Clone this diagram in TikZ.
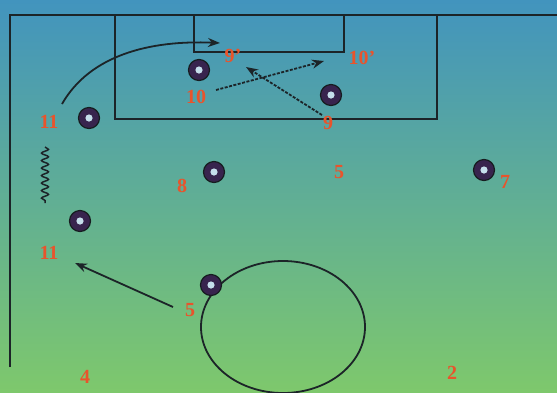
\documentclass[tikz,border=0pt]{standalone}
\usepackage{fontspec}
\setmainfont{Liberation Serif}
\usetikzlibrary{arrows.meta,decorations.pathmorphing}
\definecolor{topc}{RGB}{66,148,190}
\definecolor{botc}{RGB}{126,200,108}
\definecolor{lab}{RGB}{232,84,44}
\definecolor{ringc}{RGB}{56,36,78}
\definecolor{linec}{RGB}{28,36,40}
\tikzset{
  player/.style={circle,draw=linec!80!black,line width=1.2pt,fill=ringc,minimum size=21pt,inner sep=0pt,
    path picture={\fill[white!70!topc] (path picture bounding box.center) circle (3.6pt);}},
  num/.style={text=lab,font=\bfseries\fontsize{20}{20}\selectfont,inner sep=0pt},
  pitch/.style={draw=linec,line width=1.8pt},
  arr/.style={draw=linec,line width=1.8pt,-{Stealth[length=12pt,width=9pt]}},
  darr/.style={arr,dash pattern=on 3pt off 1.5pt}
}
\begin{document}
\begin{tikzpicture}[x=1pt,y=-1pt]
\shade[top color=topc,bottom color=botc] (0,0) rectangle (557,392);
\useasboundingbox (0,0) rectangle (557,392);
% pitch lines
\draw[pitch] (10,367) -- (10,15) -- (557,15);
\draw[pitch] (115,15) -- (115,119) -- (437,119) -- (437,15);
\draw[pitch] (194,15) -- (194,52) -- (344,52) -- (344,15);
\draw[pitch] (283,327) ellipse [x radius=82,y radius=66];
% players
\node[player] (p10) at (199,70) {};
\node[player] (p11a) at (89,118) {};
\node[player] (p9) at (331,95) {};
\node[player] (p8) at (214,172) {};
\node[player] (p7) at (484,170) {};
\node[player] (p11b) at (80,221) {};
\node[player] (p5) at (211,285) {};
% labels
\node[num] (l9p) at (233,56) {9'};
\node[num] (l10p) at (362,58) {10'};
\node[num] (l10) at (196,97) {10};
\node[num] (l9) at (328,123) {9};
\node[num] (l11a) at (49,122) {11};
\node[num] (l8) at (182,186) {8};
\node[num] (l5a) at (339,172) {5};
\node[num] (l7) at (505,182) {7};
\node[num] (l11b) at (49,253) {11};
\node[num] (l5b) at (190,310) {5};
\node[num] (l4) at (85,377) {4};
\node[num] (l2) at (452,373) {2};
% movements
\coordinate (c11s) at (62,104);
\coordinate (c9pe) at (220,43);
\draw[arr] (c11s) .. controls (90,55) and (150,40) .. (c9pe);
\coordinate (c10s) at (216,90);
\coordinate (c10e) at (324,61);
\draw[darr] (c10s) -- (c10e);
\coordinate (c9s) at (322,115);
\coordinate (c9e) at (246,67);
\draw[darr] (c9s) -- (c9e);
\coordinate (w1) at (45,147);
\coordinate (w2) at (45,203);
\draw[linec,line width=1.5pt,decorate,decoration={snake,segment length=7.5pt,amplitude=3.5pt}] (w1) -- (w2);
\coordinate (c5s) at (173,307);
\coordinate (c5e) at (75,263);
\draw[arr] (c5s) -- (c5e);
\end{tikzpicture}
\end{document}
